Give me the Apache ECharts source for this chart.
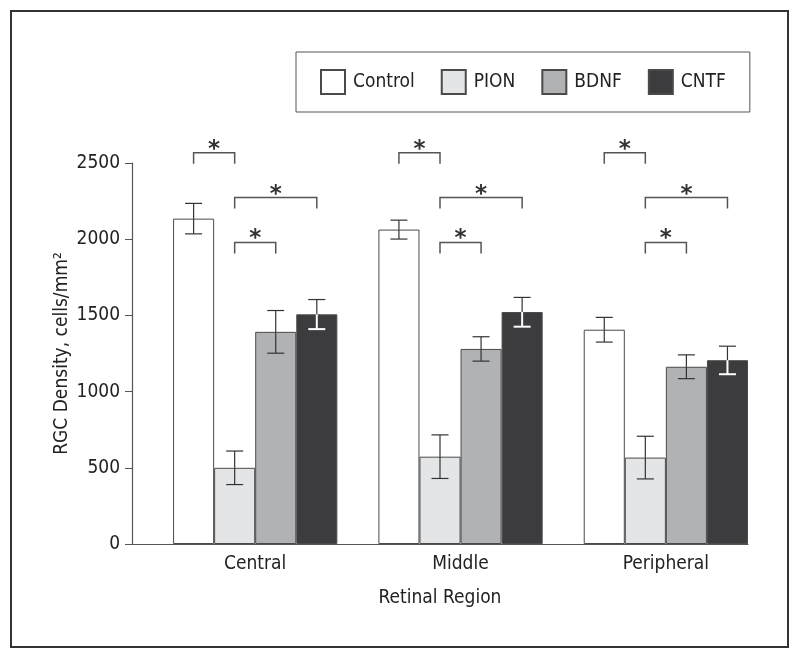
<!DOCTYPE html>
<html>
<head>
<meta charset="utf-8">
<script src="https://cdn.jsdelivr.net/npm/echarts@6/dist/echarts.min.js"></script>
<style>html,body{margin:0;padding:0;background:#fff}#c{width:800px;height:659px}</style>
</head>
<body>
<div id="c"></div>
<script>
// ---- data ----
var categories = ['Central', 'Middle', 'Peripheral'];
var seriesNames = ['Control', 'PION', 'BDNF', 'CNTF'];
var control = [2135, 2063, 1406];
var controlErr = [100, 62, 81];
var pion = [500, 573, 567];
var pionErr = [110, 143, 140];
var bdnf = [1392, 1280, 1163];
var bdnfErr = [140, 80, 78];
var cntf = [1507, 1522, 1206];
var cntfErr = [97, 96, 92];
var yTicks = [0, 500, 1000, 1500, 2000, 2500];
// significance brackets: [from series index, to series index, bracket level]
var brackets = [[0, 1, 2568], [1, 3, 2273], [1, 2, 1979]];

var values = [control, pion, bdnf, cntf];
var errors = [controlErr, pionErr, bdnfErr, cntfErr];
var colors = ['#ffffff', '#e4e5e7', '#b1b2b4', '#3c3c3f'];
var FONT = "'Liberation Sans Narrow', 'DejaVu Sans Condensed', sans-serif";
var FS = 19;
var NSLOT = 5; // one empty leading slot + 4 bars per category

var chart = echarts.init(document.getElementById('c'), null, {renderer: 'canvas'});

function slotOffset(api, s) {
  var w = api.size([1, 0])[0] / NSLOT;
  return {w: w, off: (s - 1) * w};
}

var series = [];
// leading empty slot
series.push({
  type: 'bar', name: 'spacer', data: categories.map(function () { return '-'; }),
  barGap: 0, barCategoryGap: 0, silent: true, itemStyle: {color: 'transparent'}
});
seriesNames.forEach(function (n, s) {
  series.push({
    type: 'bar', name: n, data: values[s], barGap: 0, barCategoryGap: 0,
    itemStyle: {color: colors[s], borderColor: '#4a4a4a', borderWidth: 1},
    emphasis: {disabled: true}, z: 2
  });
});
// error bars
seriesNames.forEach(function (n, s) {
  series.push({
    type: 'custom', name: n + ' err', silent: true, z: 5,
    encode: {x: 0, y: 1},
    data: categories.map(function (c, i) { return [i, values[s][i], errors[s][i]]; }),
    renderItem: function (params, api) {
      var ci = api.value(0), v = api.value(1), e = api.value(2);
      var so = slotOffset(api, s);
      var p = api.coord([ci, v]);
      var pt = api.coord([ci, v + e]);
      var pb = api.coord([ci, v - e]);
      var x = p[0] + so.off;
      var hw = 8.5;
      var dark = '#333';
      var lowCol = s === 3 ? '#ffffff' : dark;
      var lowW = s === 3 ? 2 : 1.2;
      return {
        type: 'group',
        children: [
          {type: 'line', shape: {x1: x, y1: pt[1], x2: x, y2: p[1]}, style: {stroke: dark, lineWidth: 1.2}},
          {type: 'line', shape: {x1: x - hw, y1: pt[1], x2: x + hw, y2: pt[1]}, style: {stroke: dark, lineWidth: 1.2}},
          {type: 'line', shape: {x1: x, y1: p[1], x2: x, y2: pb[1]}, style: {stroke: lowCol, lineWidth: lowW}},
          {type: 'line', shape: {x1: x - hw, y1: pb[1], x2: x + hw, y2: pb[1]}, style: {stroke: lowCol, lineWidth: lowW}}
        ]
      };
    }
  });
});
// significance brackets
var bracketData = [];
categories.forEach(function (c, i) {
  brackets.forEach(function (b) { bracketData.push([i, b[0], b[1], b[2]]); });
});
series.push({
  type: 'custom', name: 'sig', silent: true, z: 5, clip: false,
  encode: {x: 0, y: 3},
  data: bracketData,
  renderItem: function (params, api) {
    var ci = api.value(0), a = api.value(1), b = api.value(2), lvl = api.value(3);
    var p = api.coord([ci, lvl]);
    var w = api.size([1, 0])[0] / NSLOT;
    var x1 = p[0] + (a - 1) * w, x2 = p[0] + (b - 1) * w, y = p[1];
    var leg = 11;
    return {
      type: 'group',
      children: [
        {type: 'polyline', shape: {points: [[x1, y + leg], [x1, y], [x2, y], [x2, y + leg]]},
          style: {stroke: '#555', lineWidth: 1.5, fill: null}},
        {type: 'text', x: (x1 + x2) / 2, y: y - 3,
          style: {text: '*', fontFamily: 'DejaVu Sans', fontWeight: 'bold', fontSize: 23, fill: '#333',
            align: 'center', verticalAlign: 'middle'}}
      ]
    };
  }
});

var option = {
  animation: false,
  backgroundColor: '#fff',
  textStyle: {fontFamily: FONT},
  graphic: [{
    type: 'rect', shape: {x: 11, y: 11, width: 777, height: 636},
    style: {fill: 'none', stroke: '#333', lineWidth: 2}, silent: true, z: -1
  }],
  legend: {
    data: seriesNames,
    left: 296, top: 52,
    padding: [17, 24, 17, 24],
    itemWidth: 24, itemHeight: 24, itemGap: 26,
    icon: 'rect',
    borderColor: '#555', borderWidth: 1,
    textStyle: {fontFamily: FONT, fontSize: FS, color: '#222', padding: [0, 0, 0, 3]},
    selectedMode: false
  },
  grid: {left: 132, right: 52, top: 163, bottom: 115, containLabel: false},
  xAxis: {
    type: 'category', data: categories,
    name: 'Retinal Region', nameLocation: 'middle', nameGap: 45, nameMoveOverlap: false,
    nameTextStyle: {fontFamily: FONT, fontSize: FS, color: '#222'},
    axisLine: {lineStyle: {color: '#555', width: 1.2}},
    axisTick: {show: false},
    axisLabel: {fontFamily: FONT, fontSize: FS, color: '#222', margin: 11, padding: [0, 0, 0, 41]},
    splitLine: {show: false}
  },
  yAxis: {
    type: 'value', min: yTicks[0], max: yTicks[yTicks.length - 1], interval: yTicks[1] - yTicks[0],
    name: 'RGC Density, cells/mm²', nameLocation: 'middle', nameGap: 60, nameRotate: 90,
    nameMoveOverlap: false,
    nameTextStyle: {fontFamily: FONT, fontSize: FS, color: '#222'},
    axisLine: {show: true, lineStyle: {color: '#555', width: 1.2}},
    axisTick: {show: true, inside: false, length: 7, lineStyle: {color: '#555'}},
    axisLabel: {fontFamily: FONT, fontSize: FS, color: '#222', margin: 12,
      formatter: function (v) { return String(v); }},
    splitLine: {show: false}
  },
  series: series
};
chart.setOption(option);
</script>
</body>
</html>
